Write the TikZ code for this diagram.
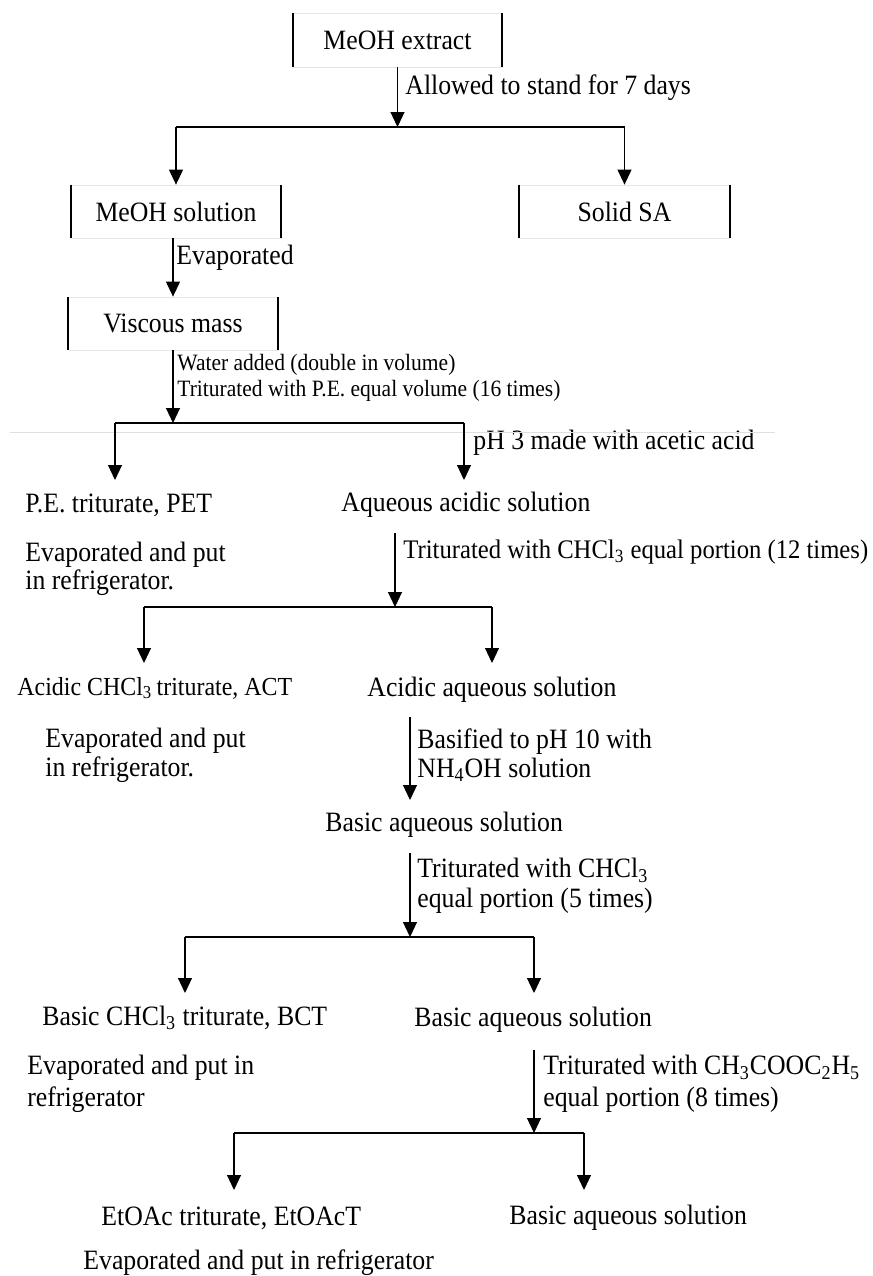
\documentclass[tikz,border=0pt]{standalone}
\usepackage{fontspec}
\setmainfont{Liberation Serif}[FakeStretch=0.92]
\usetikzlibrary{arrows.meta}

\begin{document}
\begin{tikzpicture}[x=0.5pt,y=0.5pt,
    box/.style={draw=gray!20, line width=0.4pt, minimum width=105pt, minimum height=26.5pt, font=\fontsize{14}{15}\selectfont},
    txt/.style={anchor=west, align=left, font=\fontsize{14}{#1}\selectfont},
    txt/.default=15,
    lab/.style={anchor=west, align=left, font=\fontsize{11.7}{13}\selectfont},
    arr/.style={line width=0.55pt, -{Triangle[length=7.5pt,width=7pt]}},
    bar/.style={line width=0.9pt}]
  \tikzstyle{every node}+=[inner sep=0pt]
  \useasboundingbox (0,0) rectangle (873,-1276);

  % boxes
  \node[box, minimum width=104.5pt, minimum height=27pt] (ext) at (397.5,-40) {MeOH extract};
  \node[box] (meoh) at (176,-211.5) {MeOH solution};
  \node[box] (solid) at (624.5,-211.5) {Solid SA};
  \node[box] (visc) at (173,-323.5) {Viscous mass};
  \foreach \b in {ext,meoh,solid,visc}
    \draw[line width=1pt] (\b.north west) -- (\b.south west) (\b.north east) -- (\b.south east);

  % products and treatments
  \node[txt] (l1) at (405,-88) {Allowed to stand for 7 days};
  \node[txt] (l2) at (176,-258) {Evaporated};
  \node[lab] (l3) at (177,-378) {Water added (double in volume)\\Triturated with P.E. equal volume (16 times)};
  \node[txt] (l4) at (473,-443) {pH 3 made with acetic acid};
  \node[txt] (pet) at (25,-505) {P.E. triturate, PET};
  \node[txt] (aq1) at (341,-505) {Aqueous acidic solution};
  \node[txt=14] (ev1) at (25,-569) {Evaporated and put\\in refrigerator.};
  \node[txt, font=\fontsize{13.4}{15}\selectfont] (l5) at (403,-552) {Triturated with CHCl\textsubscript{3} equal portion (12 times)};
  \node[txt, font=\fontsize{13}{14}\selectfont] (act) at (17,-688) {Acidic CHCl\textsubscript{3}\,triturate, ACT};
  \node[txt] (aq2) at (367,-690) {Acidic aqueous solution};
  \node[txt=14.5] (ev2) at (45,-755) {Evaporated and put\\in refrigerator.};
  \node[txt=14.5] (l6) at (417,-755) {Basified to pH 10 with\\NH\textsubscript{4}OH solution};
  \node[txt] (bas1) at (325,-825) {Basic aqueous solution};
  \node[txt=15] (l7) at (417,-886) {Triturated with CHCl\textsubscript{3}\\equal portion (5 times)};
  \node[txt] (bct) at (42,-1018) {Basic CHCl\textsubscript{3} triturate, BCT};
  \node[txt] (aq3) at (414,-1020) {Basic aqueous solution};
  \node[txt=16] (ev3) at (27,-1084) {Evaporated and put in\\refrigerator};
  \node[txt=16] (l8) at (543,-1084) {Triturated with CH\textsubscript{3}COOC\textsubscript{2}H\textsubscript{5}\\equal portion (8 times)};
  \node[txt] (eta) at (101,-1218) {EtOAc triturate, EtOAcT};
  \node[txt] (aq4) at (509,-1218) {Basic aqueous solution};
  \node[txt] (ev4) at (83,-1263) {Evaporated and put in refrigerator};

  % branch points
  \coordinate (s1) at (397.5,-127);
  \coordinate (s2) at (173,-423);
  \coordinate (s2l) at (115,-423);  \coordinate (e2l) at (115,-480);
  \coordinate (s2r) at (464,-423);  \coordinate (e2r) at (464,-480);
  \coordinate (a3) at (395,-533);   \coordinate (s3) at (395,-607);
  \coordinate (s3l) at (144,-607);  \coordinate (e3l) at (144,-663);
  \coordinate (s3r) at (492,-607);  \coordinate (e3r) at (492,-663);
  \coordinate (a4) at (410,-717);   \coordinate (e4) at (410,-800);
  \coordinate (a5) at (410,-853);   \coordinate (s5) at (410,-937);
  \coordinate (s5l) at (185,-937);  \coordinate (e5l) at (185,-993);
  \coordinate (s5r) at (534,-937);  \coordinate (e5r) at (534,-993);
  \coordinate (a6) at (534,-1050);  \coordinate (s6) at (534,-1133);
  \coordinate (s6l) at (234,-1133); \coordinate (e6l) at (234,-1190);
  \coordinate (s6r) at (584,-1133); \coordinate (e6r) at (584,-1190);

  % connectors
  \draw[arr] (ext.south) -- (s1);
  \draw[bar] (meoh.north |- s1) -- (solid.north |- s1);
  \draw[arr] (meoh.north |- s1) -- (meoh.north);
  \draw[arr] (solid.north |- s1) -- (solid.north);
  \draw[arr] (visc |- meoh.south) -- (visc.north);
  \draw[arr] (visc.south) -- (s2);
  \draw[bar] (s2l) -- (s2r);
  \draw[gray!25, line width=0.4pt] (10,-432) -- (775,-432);
  \draw[arr] (s2l) -- (e2l);
  \draw[arr] (s2r) -- (e2r);
  \draw[arr] (a3) -- (s3);
  \draw[bar] (s3l) -- (s3r);
  \draw[arr] (s3l) -- (e3l);
  \draw[arr] (s3r) -- (e3r);
  \draw[arr] (a4) -- (e4);
  \draw[arr] (a5) -- (s5);
  \draw[bar] (s5l) -- (s5r);
  \draw[arr] (s5l) -- (e5l);
  \draw[arr] (s5r) -- (e5r);
  \draw[arr] (a6) -- (s6);
  \draw[bar] (s6l) -- (s6r);
  \draw[arr] (s6l) -- (e6l);
  \draw[arr] (s6r) -- (e6r);
\end{tikzpicture}
\end{document}
